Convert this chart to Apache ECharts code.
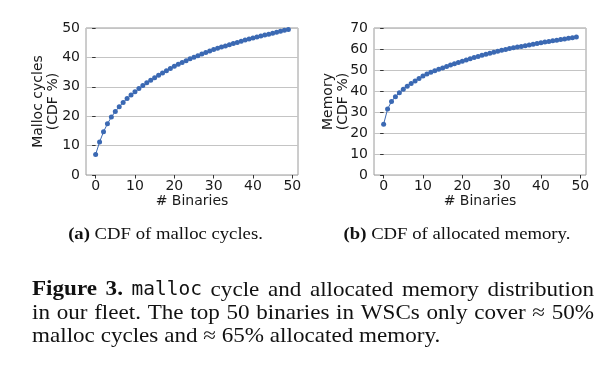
<!DOCTYPE html>
<html>
<head>
<meta charset="utf-8">
<script src="https://cdn.jsdelivr.net/npm/echarts@6/dist/echarts.min.js"></script>
<style>
html,body{margin:0;padding:0;background:#fff;}
#chart{width:612px;height:374px;}
</style>
</head>
<body>
<div id="chart"></div>
<script>
// ---- data ----
const binaries = [0,1,2,3,4,5,6,7,8,9,10,11,12,13,14,15,16,17,18,19,20,21,22,23,24,25,26,27,28,29,30,31,32,33,34,35,36,37,38,39,40,41,42,43,44,45,46,47,48,49];
const mallocCdf = [7.0,11.2,14.7,17.4,19.7,21.6,23.2,24.7,26.0,27.2,28.3,29.4,30.4,31.35,32.25,33.1,33.9,34.7,35.5,36.25,37.0,37.65,38.3,38.9,39.5,40.05,40.6,41.15,41.7,42.2,42.7,43.1,43.5,43.9,44.3,44.7,45.1,45.5,45.9,46.25,46.6,46.95,47.3,47.6,47.9,48.25,48.55,48.9,49.2,49.5];
const memoryCdf = [24.2,31.4,35.0,37.3,39.2,40.8,42.3,43.6,44.8,46.0,47.2,48.1,48.9,49.6,50.3,51.0,51.7,52.4,53.0,53.6,54.2,54.8,55.35,55.9,56.45,57.0,57.5,58.0,58.5,58.95,59.4,59.8,60.2,60.55,60.9,61.25,61.6,61.95,62.3,62.65,63.0,63.3,63.6,63.9,64.2,64.5,64.8,65.1,65.4,65.7];
const xTicks = [0,10,20,30,40,50];
const yMaxMalloc = 50;
const yMaxMemory = 70;
const xLabel = '# Binaries';
const yLabelMalloc = 'Malloc cycles\n(CDF %)';
const yLabelMemory = 'Memory\n(CDF %)';
const captionA = ['(a)', ' CDF of malloc cycles.'];
const captionB = ['(b)', ' CDF of allocated memory.'];
const figLines = [
  [['Figure','b'],['3.','b'],['malloc','m'],['cycle','r'],['and','r'],['allocated','r'],['memory','r'],['distribution','r']],
  [['in','r'],['our','r'],['fleet.','r'],['The','r'],['top','r'],['50','r'],['binaries','r'],['in','r'],['WSCs','r'],['only','r'],['cover','r'],['\u2248','r'],['50%','r']],
  [['malloc','r'],['cycles','r'],['and','r'],['\u2248','r'],['65%','r'],['allocated','r'],['memory.','r']]
];

// ---- chart ----
const color = '#3b69b3';
const tickFont = 'DejaVu Sans';
const tickSize = 14;
const serif = 'Liberation Serif';
const mono = 'DejaVu Sans Mono';
const sx = 1.1; // horizontal stretch for serif caption text

function xAxisCfg(gi){
  return {
    type:'value', gridIndex:gi, min:-2.45, max:51.45,
    name:xLabel, nameLocation:'middle', nameGap:19,
    nameTextStyle:{fontFamily:tickFont,fontSize:tickSize,color:'#1a1a1a'},
    axisLine:{show:false},
    axisTick:{show:true,inside:false,length:3.5,customValues:xTicks,lineStyle:{color:'#333'}},
    axisLabel:{customValues:xTicks,margin:4,fontFamily:tickFont,fontSize:tickSize,color:'#1a1a1a'},
    splitLine:{show:false}
  };
}
function yAxisCfg(gi,max){
  return {
    type:'value', gridIndex:gi, min:0, max:max, interval:10,
    axisLine:{show:false},
    axisTick:{show:true,inside:false,length:3.5,lineStyle:{color:'#333'}},
    axisLabel:{margin:6,fontFamily:tickFont,fontSize:tickSize,color:'#1a1a1a'},
    splitLine:{show:true,lineStyle:{color:'#c4c4c4',width:1}}
  };
}

const ctx = document.createElement('canvas').getContext('2d');
const fontOf = {b:'bold 21px "'+serif+'"', r:'21px "'+serif+'"', m:'19.5px "'+mono+'"'};
function measure(t,k){ ctx.font = fontOf[k]; return ctx.measureText(t).width * (k==='m'?1:sx); }

const graphics = [];
// y axis titles
graphics.push({type:'text', x:46, y:101.5, rotation:Math.PI/2,
  style:{text:yLabelMalloc, x:0, y:0, align:'center', verticalAlign:'middle', font:tickSize+'px "'+tickFont+'"', lineHeight:15, fill:'#1a1a1a'}});
graphics.push({type:'text', x:335.5, y:101.5, rotation:Math.PI/2,
  style:{text:yLabelMemory, x:0, y:0, align:'center', verticalAlign:'middle', font:tickSize+'px "'+tickFont+'"', lineHeight:15, fill:'#1a1a1a'}});
// sub captions
function cap(parts,cx){
  return {type:'text', x:cx, y:235, scaleX:sx, style:{
    text:'{b|'+parts[0]+'}{r|'+parts[1]+'}', x:0,y:0, align:'center', verticalAlign:'middle',
    rich:{b:{fontFamily:serif,fontWeight:'bold',fontSize:17,fill:'#111'}, r:{fontFamily:serif,fontSize:17,fill:'#111'}}
  }};
}
graphics.push(cap(captionA,165.5));
graphics.push(cap(captionB,457));
// figure caption, justified
const left = 32, right = 594, lineY = [290,313,336];
figLines.forEach((words,li)=>{
  const widths = words.map(w=>measure(w[0],w[1]));
  const total = widths.reduce((a,b)=>a+b,0);
  const normalSpace = measure(' ','r');
  const gap = (li < figLines.length-1) ? (right-left-total)/(words.length-1) : normalSpace;
  let x = left;
  words.forEach((w,i)=>{
    graphics.push({type:'text', x:x, y:lineY[li], scaleX:(w[1]==='m'?1:sx),
      style:{text:w[0], x:0,y:0, align:'left', verticalAlign:'middle', font:fontOf[w[1]], fill:'#111'}});
    x += widths[i] + gap;
  });
});

const chart = echarts.init(document.getElementById('chart'), null, {renderer:'canvas'});
chart.setOption({
  animation:false,
  backgroundColor:'#fff',
  grid:[
    {left:86, top:28, width:212, height:147, show:true, borderColor:'#9a9a9a', borderWidth:1, backgroundColor:'transparent'},
    {left:374, top:28, width:212, height:147, show:true, borderColor:'#9a9a9a', borderWidth:1, backgroundColor:'transparent'}
  ],
  xAxis:[xAxisCfg(0), xAxisCfg(1)],
  yAxis:[yAxisCfg(0,yMaxMalloc), yAxisCfg(1,yMaxMemory)],
  series:[
    {type:'line', xAxisIndex:0, yAxisIndex:0, data:binaries.map((b,i)=>[b,mallocCdf[i]]),
     symbol:'circle', symbolSize:5, showSymbol:true, lineStyle:{color:color,width:1}, itemStyle:{color:color}},
    {type:'line', xAxisIndex:1, yAxisIndex:1, data:binaries.map((b,i)=>[b,memoryCdf[i]]),
     symbol:'circle', symbolSize:5, showSymbol:true, lineStyle:{color:color,width:1}, itemStyle:{color:color}}
  ],
  graphic:graphics
});
</script>
</body>
</html>
